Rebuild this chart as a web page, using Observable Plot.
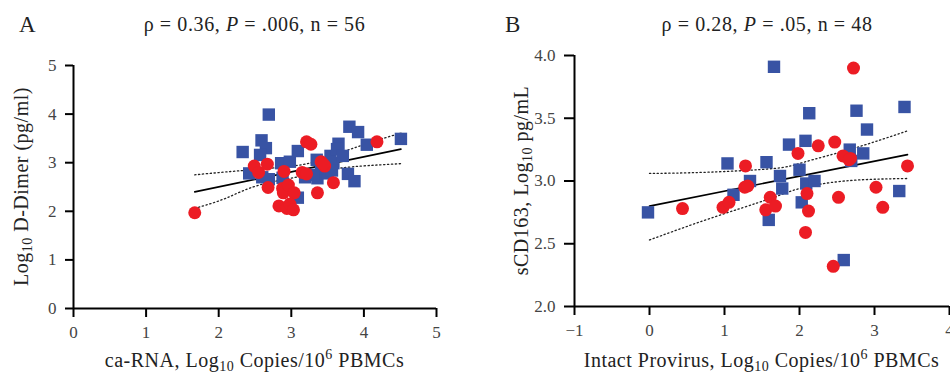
<!DOCTYPE html>
<html><head><meta charset="utf-8">
<script src="https://cdn.jsdelivr.net/npm/d3@7"></script>
<script src="https://cdn.jsdelivr.net/npm/@observablehq/plot@0.6"></script>
<style>
body{margin:0;background:#fff;}
#wrap{display:flex;width:950px;height:376px;}
</style></head><body><div id="wrap"></div>
<script>
// ---- Panel A data ----
const aBlue = [[2.69,3.99],[2.33,3.22],[2.59,3.46],[2.65,3.30],[2.57,3.16],[2.42,2.78],[2.60,2.70],[2.69,2.66],[2.86,2.99],[2.98,3.02],[2.88,2.69],[3.09,3.24],[3.09,2.28],[3.19,2.70],[3.35,3.06],[3.36,2.68],[3.41,2.82],[3.50,2.78],[3.54,3.14],[3.58,2.99],[3.65,3.39],[3.63,3.28],[3.71,3.14],[3.80,3.74],[3.92,3.63],[3.78,2.77],[3.87,2.62],[4.04,3.37],[4.51,3.49],[3.46,2.89],[3.30,2.75],[3.56,2.84]];
const aRed = [[1.67,1.97],[2.49,2.93],[2.55,2.80],[2.67,2.97],[2.68,2.49],[2.90,2.82],[2.88,2.47],[2.89,2.38],[2.96,2.54],[3.04,2.38],[2.83,2.11],[2.94,2.06],[2.98,2.15],[3.03,2.03],[3.21,3.43],[3.27,3.38],[3.15,2.80],[3.21,2.77],[3.36,2.38],[3.41,3.02],[3.46,2.93],[3.58,2.59],[4.18,3.43],[3.44,2.97]];
const aFit = [[1.67,2.40],[4.51,3.28]];
const aUpper = [[1.67,2.75],[2.10,2.81],[2.74,2.89],[3.31,3.01],[3.82,3.28],[4.51,3.61]];
const aLower = [[1.67,2.06],[2.10,2.27],[2.56,2.54],[3.2,2.74],[3.68,2.89],[4.51,2.98]];
const aTicksX = [0,1,2,3,4,5];
const aTicksY = [0,1,2,3,4,5];

// ---- Panel B data ----
const bBlue = [[-0.02,2.75],[1.66,3.91],[1.04,3.14],[1.34,3.00],[1.12,2.89],[1.56,3.15],[1.59,2.69],[1.74,3.04],[1.77,2.94],[1.86,3.29],[2.00,3.09],[2.08,3.32],[2.13,3.54],[2.09,2.98],[2.20,3.00],[2.03,2.83],[2.59,2.37],[2.67,3.25],[2.69,3.16],[2.76,3.56],[2.85,3.22],[2.90,3.41],[3.33,2.92],[3.40,3.59]];
const bRed = [[0.44,2.78],[0.98,2.79],[1.06,2.83],[1.28,3.12],[1.27,2.95],[1.31,2.96],[1.55,2.77],[1.61,2.87],[1.68,2.80],[1.98,3.22],[2.10,2.90],[2.12,2.76],[2.08,2.59],[2.25,3.28],[2.47,3.31],[2.52,2.87],[2.45,2.32],[2.58,3.20],[2.68,3.18],[2.72,3.90],[3.02,2.95],[3.11,2.79],[3.44,3.12],[2.66,3.17]];
const bFit = [[0,2.80],[3.44,3.21]];
const bUpper = [[0,3.06],[0.77,3.07],[1.66,3.10],[2.06,3.15],[2.72,3.26],[3.44,3.40]];
const bLower = [[0,2.53],[0.8,2.70],[1.61,2.86],[2.0,2.94],[2.6,3.00],[3.44,3.02]];
const bTicksX = [-1,0,1,2,3,4];
const bTicksY = [2.0,2.5,3.0,3.5,4.0];

const BLUE = "#3853a4", RED = "#ec1c24", FONT = "Liberation Serif, Times New Roman, serif";

function panel(o) {
  const svg = Plot.plot({
    width: 475, height: 376,
    marginLeft: o.ml, marginRight: o.mr, marginTop: o.mt, marginBottom: o.mb,
    style: {fontFamily: FONT, fontSize: "17px", background: "white", overflow: "visible"},
    x: {domain: o.xd, label: null},
    y: {domain: o.yd, label: null},
    marks: [
      Plot.ruleY([o.yd[0]], {strokeWidth: 2, stroke: "black"}),
      Plot.ruleX([o.xd[0]], {strokeWidth: 2, stroke: "black"}),
      Plot.axisX({ticks: o.xt, tickFormat: o.xf, tickSize: 9, tickPadding: 8, strokeWidth: 2, stroke: "black", fill: "#444", label: null}),
      Plot.axisY({ticks: o.yt, tickFormat: o.yf, tickSize: o.yts, tickPadding: 9, strokeWidth: 2, stroke: "black", fill: "#444", label: null}),
      Plot.line(o.upper, {x: d => d[0], y: d => d[1], stroke: "#222", strokeWidth: 1.3, strokeDasharray: "1.3,2.6", curve: "natural"}),
      Plot.line(o.lower, {x: d => d[0], y: d => d[1], stroke: "#222", strokeWidth: 1.3, strokeDasharray: "1.3,2.6", curve: "natural"}),
      Plot.line(o.fit, {x: d => d[0], y: d => d[1], stroke: "black", strokeWidth: 1.6}),
      Plot.dot(o.blue, {x: d => d[0], y: d => d[1], symbol: "square", r: 7, fill: BLUE}),
      Plot.dot(o.red, {x: d => d[0], y: d => d[1], symbol: "circle", r: 6.5, fill: RED})
    ]
  });
  const s = d3.select(svg);
  const txt = (x, y, size) => s.append("text").attr("x", x).attr("y", y)
    .attr("font-family", FONT).attr("font-size", size).attr("fill", "#222");
  // panel letter
  txt(o.letterX, 32, 23).attr("text-anchor", "start").text(o.letter);
  // title
  const t = txt(o.titleX, 31, 20).attr("text-anchor", "middle").attr("letter-spacing", "0.6px");
  t.append("tspan").text(o.rho + ", ");
  t.append("tspan").attr("font-style", "italic").text("P");
  t.append("tspan").text(o.ptxt);
  // x label
  const xl = txt((o.ml + 475 - o.mr) / 2, 367, 20).attr("text-anchor", "middle").attr("letter-spacing", "0.5px");
  xl.append("tspan").text(o.xlab + "Log");
  xl.append("tspan").attr("font-size", 14).attr("dy", 3.5).text("10");
  xl.append("tspan").attr("dy", -3.5).text(" Copies/10");
  xl.append("tspan").attr("font-size", 14).attr("dy", -8).text("6");
  xl.append("tspan").attr("dy", 8).text(" PBMCs");
  // y label
  const cy = (o.mt + 376 - o.mb) / 2;
  const yl = s.append("text").attr("transform", `translate(${o.ylx},${cy}) rotate(-90)`)
    .attr("font-family", FONT).attr("font-size", 20).attr("fill", "#222")
    .attr("text-anchor", "middle").attr("letter-spacing", "0.5px");
  yl.append("tspan").text(o.ypre + "Log");
  yl.append("tspan").attr("font-size", 14).attr("dy", 4).text("10");
  yl.append("tspan").attr("dy", -4).text(o.ypost);
  return svg;
}

const wrap = document.getElementById("wrap");
wrap.append(panel({
  ml: 73, mr: 39, mt: 65, mb: 68, xd: [0, 5], yd: [0, 5], xt: aTicksX, yt: aTicksY, yts: 8,
  xf: d => String(d), yf: d => String(d),
  blue: aBlue, red: aRed, fit: aFit, upper: aUpper, lower: aLower,
  letter: "A", letterX: 19, titleX: 254.5, rho: "ρ = 0.36", ptxt: " = .006, n = 56",
  xlab: "ca-RNA, ", ypre: "", ypost: " D-Dimer (pg/ml)", ylx: 28
}));
wrap.append(panel({
  ml: 99, mr: 1, mt: 55, mb: 70, xd: [-1, 4], yd: [2, 4], xt: bTicksX, yt: bTicksY, yts: 10,
  xf: d => d < 0 ? "\u2212" + Math.abs(d) : String(d), yf: d => d.toFixed(1),
  blue: bBlue, red: bRed, fit: bFit, upper: bUpper, lower: bLower,
  letter: "B", letterX: 30, titleX: 292, rho: "ρ = 0.28", ptxt: " = .05, n = 48",
  xlab: "Intact Provirus, ", ypre: "sCD163, ", ypost: " pg/mL", ylx: 53
}));
</script></body></html>
